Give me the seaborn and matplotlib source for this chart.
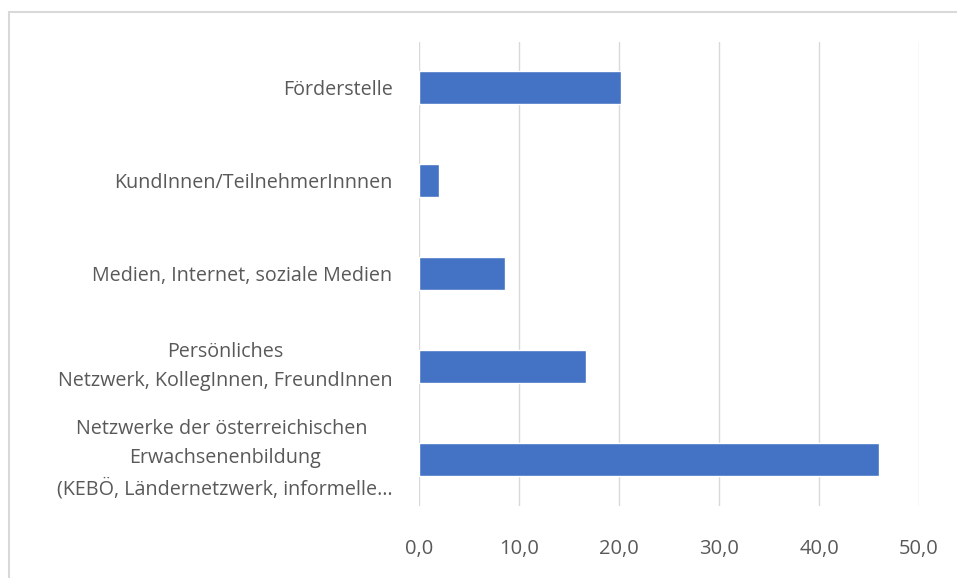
import matplotlib
matplotlib.use("Agg")
import matplotlib.pyplot as plt
import seaborn as sns
import pandas as pd
from matplotlib.patches import Rectangle

categories = [
    "Förderstelle",
    "KundInnen/TeilnehmerInnnen",
    "Medien, Internet, soziale Medien",
    "Persönliches\nNetzwerk, KollegInnen, FreundInnen",
    "Netzwerke der österreichischen \nErwachsenenbildung\n(KEBÖ, Ländernetzwerk, informelle…",
]
values = [20.2, 2.0, 8.6, 16.7, 46.0]
x_ticks = [0, 10, 20, 30, 40, 50]

df = pd.DataFrame({"Kategorie": categories, "Anteil": values})

sns.set_theme(style="white")
plt.rcParams["font.family"] = ["Open Sans", "DejaVu Sans"]

fig = plt.figure(figsize=(9.57, 5.78), dpi=100)
ax = fig.add_axes([0.4378, 0.1254, 0.5225, 0.8028])

sns.barplot(data=df, x="Anteil", y="Kategorie", orient="h",
            color="#4472C4", saturation=1, width=0.355, ax=ax)

ax.set_xlim(0, 50)
ax.set_xticks(x_ticks)
ax.set_xticklabels([f"{t:.1f}".replace(".", ",") for t in x_ticks])
ax.set_xlabel("")
ax.set_ylabel("")
ax.grid(axis="x", color="#d9d9d9", linewidth=1.0)
ax.set_axisbelow(True)
for s in ax.spines.values():
    s.set_visible(False)

ax.tick_params(axis="x", length=0, pad=24, labelsize=14.5, labelcolor="#595959")
ax.tick_params(axis="y", length=0, pad=19, labelsize=14.2, labelcolor="#595959")
for lbl in ax.get_yticklabels():
    lbl.set_horizontalalignment("right")
    lbl.set_multialignment("center")
    lbl.set_linespacing(1.6)
    if "\n" in lbl.get_text():
        lbl.set_verticalalignment("center")

# light frame around the chart area
fig.patches.append(Rectangle((9 / 957, -0.1), 1.2, 1 - 12 / 578 + 0.1,
                             transform=fig.transFigure, fill=False,
                             edgecolor="#d9d9d9", linewidth=1.5))

fig.savefig("out.png", dpi=100)
